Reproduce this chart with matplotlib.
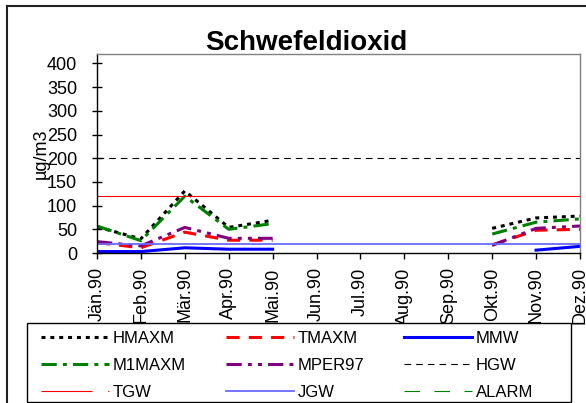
import numpy as np
import matplotlib
matplotlib.use("Agg")
import matplotlib.pyplot as plt
from matplotlib.lines import Line2D
from matplotlib.patches import Rectangle

plt.rcParams['font.family'] = ['Liberation Sans', 'DejaVu Sans']

nan = np.nan
months = ['Jän.90', 'Feb.90', 'Mär.90', 'Apr.90', 'Mai.90', 'Jun.90',
          'Jul.90', 'Aug.90', 'Sep.90', 'Okt.90', 'Nov.90', 'Dez.90']
hmaxm = [55, 30, 131, 54, 69, nan, nan, nan, nan, 52, 74, 78]
tmaxm = [22, 11, 44, 27, 27, nan, nan, nan, nan, 17, 48, 50]
mmw = [3, 3, 11, 8, 8, nan, nan, nan, nan, nan, 6, 14]
m1maxm = [57, 26, 120, 50, 62, nan, nan, nan, nan, 40, 65, 72]
mper97 = [24, 15, 54, 31, 31, nan, nan, nan, nan, 16, 52, 57]
hgw = [200] * 12
tgw = [120] * 12
jgw = [20] * 12
alarm = [500] * 12

W, H = 586, 403
fig = plt.figure(figsize=(W / 100, H / 100), dpi=100)
ax = fig.add_axes([97 / W, 1 - 253 / H, (580 - 97) / W, (253 - 54) / H])

x = np.arange(len(months))
thick = 2.2
thin = 0.8

# series in the original order, later ones drawn on top
ax.plot(x, hmaxm, color='black', lw=thick, ls=(0, (1.3, 1.6)), label='HMAXM')
ax.plot(x, tmaxm, color='#ff0000', lw=thick, ls=(0, (4.3, 3)), label='TMAXM')
ax.plot(x, mmw, color='#0000ff', lw=thick, label='MMW')
ax.plot(x, m1maxm, color='#008000', lw=thick, ls=(0, (5, 2, 1.3, 2)), label='M1MAXM')
ax.plot(x, mper97, color='#800080', lw=thick, ls=(0, (5, 2, 1.3, 2, 1.3, 2)), label='MPER97')
ax.plot(x, hgw, color='black', lw=thin, ls=(0, (6, 4.5)), label='HGW')
ax.plot(x, tgw, color='#ff0000', lw=thin, label='TGW')
ax.plot(x, jgw, color='#6a6aff', lw=1.3, label='JGW')
ax.plot(x, alarm, color='#008000', lw=thin, ls=(0, (14, 13)), label='ALARM')

ax.set_xlim(0, 11)
ax.set_ylim(0, 420)
ax.set_yticks(np.arange(0, 401, 50))
ax.set_xticks(x)
ax.set_xticklabels(months, rotation=90, fontsize=13)
ax.tick_params(axis='y', direction='inout', length=6.5, width=1, labelsize=13, pad=11)
ax.tick_params(axis='x', direction='out', length=4.3, width=1, pad=6)

for side in ['top', 'right']:
    ax.spines[side].set_color('#808080')
    ax.spines[side].set_linewidth(1)
for side in ['left', 'bottom']:
    ax.spines[side].set_color('black')
    ax.spines[side].set_linewidth(1)

fig.text(306 / W, 1 - 50 / H, 'Schwefeldioxid', fontsize=20, fontweight='bold',
         ha='center', va='baseline')
fig.text(41 / W, 1 - 154 / H, 'µg/m3', fontsize=13, rotation=90,
         ha='center', va='center')

# legend: column-wise order so rows read like the original
handles, labels = ax.get_legend_handles_labels()
lookup = dict(zip(labels, handles))
tgw_proxy = Line2D([], [], color='#ff0000', lw=thin, ls=(0, (46, 14)))
order = ['HMAXM', 'M1MAXM', 'TGW', 'TMAXM', 'MPER97', 'JGW', 'MMW', 'HGW', 'ALARM']
leg_handles = [tgw_proxy if name == 'TGW' else lookup[name] for name in order]
leg = fig.legend(leg_handles, order, ncol=3, mode='expand', loc='center',
                 bbox_to_anchor=(41 / W, 1 - 405 / H, 492 / W, 79 / H),
                 fontsize=12, handlelength=4.1, handletextpad=0.2,
                 labelspacing=0.72, borderpad=0, borderaxespad=0, columnspacing=0.5,
                 frameon=False)
leg.set_zorder(6)
# white legend box that hides the lower ends of the month labels
fig.add_artist(Rectangle((27 / W, 1 - 402 / H), (571 - 27) / W, 79 / H,
                         transform=fig.transFigure, facecolor='white',
                         edgecolor='black', lw=1, zorder=5))

# outer chart border
fig.add_artist(Line2D([7 / W, 7 / W], [0, 1 - 6 / H], color='#222222', lw=1.5,
                      transform=fig.transFigure))
fig.add_artist(Line2D([7 / W, 1], [1 - 6 / H, 1 - 6 / H], color='#222222', lw=1.5,
                      transform=fig.transFigure))

fig.savefig('out.png', dpi=100)
